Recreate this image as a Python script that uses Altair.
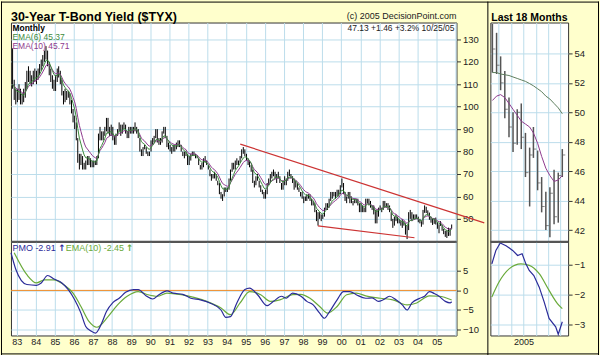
import altair as alt
import pandas as pd

FONT = "Liberation Sans"
BG = "#FFFFCC"
GRID = "#BCDDEB"
FRAME = "#333333"
TXT = "#222222"
GREEN = "#3C8A3C"
PURPLE = "#8E3A8E"
RED = "#CC3333"
BLUE = "#2B2B99"
SIGG = "#6AAA3A"
ORANGE = "#F08A24"

# ---- Monthly $TYX bars (yield x 10), Oct 1982 .. Oct 2005 ----
HI = [
    126, 112, 108,
    108, 110, 108, 106, 108, 111, 116, 118, 116, 114, 116, 117,
    116, 117, 119, 121, 123, 125, 127, 125, 120, 117, 114, 112,
    114, 117, 118, 116, 112, 107, 108, 107, 107, 106, 103, 99,
    96, 93, 86, 79, 79, 78, 75, 76, 78, 78, 77, 76,
    76, 76, 78, 88, 91, 89, 89, 91, 95, 95, 91, 92,
    91, 87, 88, 90, 93, 92, 92, 93, 92, 89, 91, 91,
    91, 91, 93, 91, 90, 86, 81, 82, 83, 82, 80, 80,
    85, 86, 87, 90, 90, 86, 86, 89, 91, 91, 87, 84,
    83, 82, 83, 83, 84, 85, 85, 83, 80, 80, 80, 79,
    78, 79, 80, 80, 79, 78, 77, 74, 75, 77, 78, 76,
    74, 72, 70, 70, 71, 70, 67, 66, 62, 61, 64, 64,
    64, 68, 72, 75, 75, 76, 77, 76, 78, 81, 82, 81,
    79, 77, 76, 74, 72, 67, 69, 70, 67, 65, 63, 62,
    63, 66, 68, 70, 71, 72, 71, 70, 71, 69, 66, 67,
    69, 68, 71, 72, 70, 69, 68, 67, 66, 64, 62, 62,
    60, 60, 61, 61, 61, 59, 58, 57, 54, 53, 53, 52,
    52, 55, 57, 57, 59, 62, 62, 62, 62, 63, 63, 65,
    68, 66, 62, 60, 62, 62, 60, 58, 59, 59, 59, 57,
    57, 56, 55, 59, 59, 59, 58, 56, 56, 54, 54, 55,
    56, 55, 58, 58, 57, 57, 56, 53, 50, 51, 52, 51,
    50, 49, 50, 49, 48, 47, 53, 54, 53, 52, 52, 52,
    51, 50, 49, 54, 56.0, 55.4, 53.8, 52.8, 51.0, 50.0, 50.2, 50.6,
    48.6, 47.6, 49.0, 47.4, 45.6, 44.6, 44.9, 46.1, 45.9, 47.5,
]
LO = [
    108, 103, 101,
    102, 103, 101, 101, 102, 104, 108, 111, 110, 109, 110, 111,
    110, 112, 114, 116, 118, 120, 121, 118, 114, 111, 108, 107,
    107, 111, 113, 110, 105, 101, 102, 103, 104, 101, 97, 93,
    90, 85, 75, 72, 74, 72, 72, 72, 74, 74, 73, 73,
    73, 74, 74, 77, 85, 85, 85, 87, 89, 88, 87, 87,
    85, 83, 83, 87, 89, 87, 88, 90, 88, 86, 86, 88,
    88, 88, 89, 88, 86, 80, 78, 78, 81, 79, 78, 78,
    80, 83, 84, 86, 84, 83, 83, 84, 88, 86, 82, 81,
    80, 79, 80, 80, 81, 82, 82, 80, 78, 77, 78, 74,
    74, 76, 78, 78, 77, 77, 74, 72, 72, 73, 75, 74,
    72, 69, 67, 68, 68, 67, 65, 61, 59, 58, 60, 62,
    62, 63, 67, 71, 72, 72, 74, 74, 75, 77, 79, 78,
    76, 74, 73, 71, 66, 64, 65, 67, 64, 62, 61, 59,
    59, 61, 65, 66, 68, 69, 68, 66, 68, 66, 63, 63,
    65, 65, 67, 69, 68, 66, 63, 64, 63, 62, 60, 59,
    57, 58, 58, 59, 58, 56, 56, 53, 49, 47, 50, 49,
    50, 51, 54, 54, 55, 58, 59, 60, 59, 60, 60, 61,
    64, 61, 58, 57, 59, 57, 57, 56, 57, 57, 56, 53,
    53, 53, 53, 53, 57, 56, 55, 54, 52, 48, 48, 51,
    54, 53, 54, 55, 55, 54, 53, 49, 46, 47, 49, 48,
    48, 47, 46, 47, 43, 41, 45, 50, 49, 50, 50, 50,
    48.5, 48, 46.5, 47.5, 52.7, 52.6, 51.5, 49.6, 48.3, 47.3, 47.8, 47.5,
    45.6, 43.6, 46.9, 44.7, 43.2, 42.0, 41.5, 42.4, 42.5, 45.6,
]
CL = [
    110, 106, 104,
    105, 107, 104, 103, 105, 109, 113, 115, 112, 112, 114, 115,
    113, 115, 117, 119, 121, 123, 125, 121, 117, 114, 111, 110,
    112, 115, 116, 112, 107, 104, 106, 105, 106, 103, 99, 95,
    93, 86, 78, 75, 77, 74, 73, 74, 77, 76, 75, 74,
    75, 75, 77, 86, 88, 86, 88, 90, 94, 89, 89, 90,
    86, 84, 88, 90, 92, 88, 91, 92, 89, 87, 90, 90,
    89, 91, 91, 89, 86, 81, 79, 82, 82, 80, 79, 80,
    84, 85, 86, 89, 86, 84, 84, 88, 90, 87, 83, 82,
    81, 81, 82, 82, 83, 84, 83, 80, 78, 79, 79, 74,
    77, 78, 79, 79, 78, 77, 74, 73, 74, 76, 76, 74,
    72, 69, 69, 69, 70, 67, 66, 62, 60, 60, 63, 63,
    63, 67, 71, 73, 74, 76, 75, 76, 78, 79, 80, 79,
    77, 75, 74, 72, 66, 66, 69, 67, 65, 63, 62, 60,
    62, 66, 67, 69, 70, 69, 70, 69, 69, 66, 64, 66,
    68, 68, 71, 69, 69, 68, 64, 66, 64, 62, 61, 59,
    59, 59, 60, 60, 58, 56, 57, 53, 50, 52, 51, 51,
    51, 55, 56, 57, 58, 60, 61, 60, 61, 61, 63, 65,
    65, 62, 58, 59, 60, 59, 57, 57, 59, 58, 56, 55,
    56, 53, 54, 58, 58, 57, 55, 54, 54, 49, 53, 55,
    55, 54, 58, 56, 56, 55, 54, 50, 47, 50, 51, 48,
    49, 47, 48, 48, 44, 46, 52, 52, 49, 51, 51, 51,
    49, 48, 48, 53, 54.3, 53.2, 52.0, 50.2, 49.0, 47.9, 50.0, 48.3,
    45.9, 47.1, 47.5, 45.2, 43.6, 42.3, 44.5, 42.9, 45.7, 47.1,
]

# ---- Price Momentum Oscillator (main panel) ----
PMO_DATES = ["1982-09", "1982-12", "1983-07", "1984-01", "1984-04", "1984-08", "1984-12",
             "1985-05", "1985-09", "1986-01", "1986-05", "1986-08", "1986-11", "1987-02",
             "1987-06", "1987-09", "1988-01", "1988-05", "1988-09", "1989-02", "1989-05",
             "1989-10", "1990-02", "1990-06", "1990-11", "1991-03", "1991-09", "1992-02",
             "1992-08", "1993-02", "1993-09", "1993-12", "1994-03", "1994-07", "1994-12",
             "1995-03", "1995-08", "1996-02", "1996-06", "1996-11", "1997-02", "1997-06",
             "1997-11", "1998-03", "1998-07", "1998-11", "1999-02", "1999-05", "1999-10",
             "2000-02", "2000-06", "2000-10", "2001-04", "2001-08", "2001-12", "2002-03",
             "2002-07", "2002-11", "2003-03", "2003-06", "2003-09", "2004-02", "2004-05",
             "2004-08", "2004-11", "2005-02", "2005-06", "2005-09", "2005-10"]
PMO_VALS = [9.6, 5.4, 1.5, 1.3, 1.9, 3.8, 2.9,
            1.9, 0.2, -2.4, -5.8, -9.2, -10.3, -10.9,
            -8.4, -5.4, -3.1, -2.0, -0.5, 0.2, 0.2,
            -1.4, -2.2, -1.1, -0.1, -0.7, -1.0, -2.0,
            -2.4, -3.2, -5.0, -6.9, -6.7, -3.2, 0.2,
            0.6, -1.1, -3.9, -2.8, -1.5, -2.0, -0.7,
            -1.4, -2.8, -3.7, -5.8, -7.1, -5.6, -2.4,
            -0.3, -0.3, -1.1, -2.0, -1.9, -2.8, -2.4,
            -1.5, -2.4, -3.7, -5.0, -3.2, -2.0, -1.5,
            -0.3, -0.8, -1.5, -2.8, -3.2, -2.9]
SIG_DATES = ["1982-11", "1983-07", "1984-01", "1984-06", "1984-12", "1985-06", "1985-12",
             "1986-05", "1986-10", "1987-03", "1987-10", "1988-04", "1988-10", "1989-05",
             "1989-11", "1990-05", "1990-11", "1991-08", "1992-04", "1992-12", "1993-09",
             "1994-03", "1994-09", "1995-03", "1995-10", "1996-04", "1996-10", "1997-06",
             "1997-11", "1998-05", "1998-11", "1999-04", "1999-10", "2000-04", "2000-10",
             "2001-04", "2002-01", "2002-09", "2003-06", "2003-12", "2004-08", "2005-02",
             "2005-10"]
SIG_VALS = [9.6, 4.0, 1.9, 2.7, 2.7, 1.5, -0.7,
            -4.1, -7.9, -9.4, -6.7, -3.7, -1.5, -0.3,
            -1.1, -1.5, -0.7, -1.1, -1.8, -2.8, -4.5,
            -6.2, -3.2, -0.3, -1.1, -2.8, -2.4, -1.1,
            -1.0, -2.0, -4.1, -5.8, -4.1, -1.1, -0.7,
            -1.4, -2.0, -2.4, -3.7, -3.2, -1.4, -1.5,
            -2.45]

# ---- Last 18 months panel ----
R_EMA_SLOW = [52.7, 52.7, 52.6, 52.55, 52.5, 52.4, 52.3, 52.2, 52.1,
              51.95, 51.8, 51.6, 51.4, 51.1, 50.9, 50.6, 50.3, 49.9]
R_EMA_FAST = [50.8, 51.1, 51.2, 51.0, 50.6, 50.2, 49.8, 49.4, 49.2,
              49.0, 48.6, 47.9, 47.0, 46.2, 45.7, 45.3, 45.4, 45.7]
R_PMO_DATES = ["2004-05-11", "2004-06-10", "2004-07-12", "2004-08-24", "2004-10-12",
               "2004-11-18", "2004-12-21", "2005-01-18", "2005-02-12", "2005-03-18",
               "2005-04-27", "2005-06-03", "2005-07-09", "2005-08-27", "2005-09-15",
               "2005-10-15"]
R_PMO_VALS = [-0.97, -0.52, -0.27, -0.36, -0.52, -0.69, -0.63, -0.97, -1.19, -1.36,
              -1.75, -2.25, -2.8, -3.08, -3.33, -2.91]
R_SIG_DATES = ["2004-05-11", "2004-07-03", "2004-09-18", "2004-12-12", "2005-02-12",
               "2005-04-27", "2005-07-09", "2005-09-09", "2005-10-15"]
R_SIG_VALS = [-2.08, -1.58, -1.13, -0.97, -1.02, -1.3, -1.86, -2.3, -2.47]

# trend lines (date, value endpoints)
TREND_SEG = ["up", "up", "lo", "lo"]
TREND_DATES = ["1994-09-18", "2007-07-01", "1998-10-13", "2003-11-04"]
TREND_VALS = [83.3, 48.2, 46.9, 41.6]

# ---------------------------------------------------------------
months = pd.date_range("1982-10-01", periods=len(CL), freq="MS") + pd.Timedelta(days=14)
main = pd.DataFrame({"date": months, "hi": HI, "lo": LO, "close": CL})
main["ema6"] = main["close"].ewm(span=6, adjust=False).mean()
main["ema10"] = main["close"].ewm(span=10, adjust=False).mean()

recent = main.tail(18).reset_index(drop=True).copy()
recent["slow"] = R_EMA_SLOW
recent["fast"] = R_EMA_FAST

pmo_df = pd.DataFrame({"date": pd.to_datetime(PMO_DATES) + pd.Timedelta(days=14), "v": PMO_VALS})
sig_df = pd.DataFrame({"date": pd.to_datetime(SIG_DATES) + pd.Timedelta(days=14), "v": SIG_VALS})
rpmo_df = pd.DataFrame({"date": pd.to_datetime(R_PMO_DATES), "v": R_PMO_VALS})
rsig_df = pd.DataFrame({"date": pd.to_datetime(R_SIG_DATES), "v": R_SIG_VALS})
trend_df = pd.DataFrame({"seg": TREND_SEG, "date": pd.to_datetime(TREND_DATES), "v": TREND_VALS})

W_MAIN, W_RIGHT = 447, 78
H_PRICE, H_PMO = 220, 94

main_dom = [alt.DateTime(year=1982, month=9, date=14), alt.DateTime(year=2006, month=1, date=15)]
right_dom = [alt.DateTime(year=2004, month=4, date=30), alt.DateTime(year=2005, month=11, date=27)]
yearly = {"interval": "year", "step": 1}
quarterly = {"interval": "month", "step": 3}


def yaxis(values):
    return alt.Axis(orient="right", values=values, title=None, grid=True, gridColor=GRID,
                    domain=False, tickSize=4, tickColor=FRAME, labelFontSize=9.5,
                    labelColor=TXT, labelPadding=2, labelFont=FONT, labelOverlap=False,
                    labelFlush=False)


def label(txt, x, y, color=TXT, size=10, weight="normal", align="left", font=FONT):
    return alt.Chart(pd.DataFrame({"t": [txt]})).mark_text(
        align=align, baseline="alphabetic", fontSize=size, fontWeight=weight,
        color=color, font=font).encode(x=alt.value(x), y=alt.value(y), text="t:N")


def hrule(x1, x2, y, color="black", w=1):
    return alt.Chart(pd.DataFrame({"a": [0]})).mark_rule(color=color, strokeWidth=w).encode(
        x=alt.value(x1), x2=alt.value(x2), y=alt.value(y))


def vrule(x, y1, y2, color="black", w=1):
    return alt.Chart(pd.DataFrame({"a": [0]})).mark_rule(color=color, strokeWidth=w).encode(
        x=alt.value(x), y=alt.value(y1), y2=alt.value(y2))


# ---------------- main price panel ----------------
xm_axis = alt.Axis(title=None, labels=False, ticks=False, domain=False, grid=True,
                   gridColor=GRID, tickCount=yearly)
xm_scale = alt.Scale(domain=main_dom, nice=False)
ym = alt.Scale(domain=[39.8, 137.5], nice=False, zero=False)
ym_axis = yaxis(list(range(50, 131, 10)))
base = alt.Chart(main)
bars = base.mark_rule(color="black", strokeWidth=1).encode(
    x=alt.X("date:T", scale=xm_scale, axis=xm_axis),
    y=alt.Y("lo:Q", scale=ym, axis=ym_axis), y2="hi:Q")
ema6 = base.mark_line(color=GREEN, strokeWidth=1).encode(
    x=alt.X("date:T", scale=xm_scale, axis=xm_axis), y=alt.Y("ema6:Q", scale=ym, axis=ym_axis))
ema10 = base.mark_line(color=PURPLE, strokeWidth=1).encode(
    x=alt.X("date:T", scale=xm_scale, axis=xm_axis), y=alt.Y("ema10:Q", scale=ym, axis=ym_axis))
trend = alt.Chart(trend_df).mark_line(color=RED, strokeWidth=1.2, clip=False).encode(
    x=alt.X("date:T", scale=xm_scale, axis=xm_axis), y=alt.Y("v:Q", scale=ym, axis=ym_axis),
    detail="seg:N")

main_price = alt.layer(
    bars, ema10, ema6, trend,
    label("30-Year T-Bond Yield ($TYX)", 0, -2, "black", 12.5, "bold"),
    label("(c) 2005 DecisionPoint.com", 447, -4, TXT, 9, align="right"),
    label("47.13  +1.46  +3.2%  10/25/05", 445, 9, TXT, 8.5, align="right"),
    label("Monthly", 1.5, 8.5, "black", 8.5, "bold"),
    label("EMA(6) 45.37", 1.5, 17.5, GREEN, 8.5),
    label("EMA(10) 45.71", 1.5, 26.5, PURPLE, 8.5),
    # outer frame and separator
    hrule(-10, 590, -20.5), vrule(-9.5, -21, 334), hrule(-10, 590, 332.5),
    vrule(478.5, -21, 334), vrule(589.5, -21, 334),
).properties(width=W_MAIN, height=H_PRICE)

# ---------------- main PMO panel ----------------
xp_axis = alt.Axis(title=None, format="%y", ticks=False, domain=False, grid=True,
                   gridColor=GRID, tickCount=yearly, labelFontSize=9,
                   labelColor=TXT, labelPadding=2, labelFont=FONT,
                   labelExpr="year(datum.value) <= 2005 ? datum.label : ''")
yp = alt.Scale(domain=[-11.5, 12.4], nice=False, zero=False)
yp_axis = yaxis([5, 0, -5, -10])
zero = alt.Chart(pd.DataFrame({"z": [0]})).mark_rule(color=ORANGE, strokeWidth=1).encode(
    y=alt.Y("z:Q", scale=yp, axis=yp_axis))
pmo_line = alt.Chart(pmo_df).mark_line(color=BLUE, strokeWidth=1.2, interpolate="monotone").encode(
    x=alt.X("date:T", scale=xm_scale, axis=xp_axis), y=alt.Y("v:Q", scale=yp, axis=yp_axis))
sig_line = alt.Chart(sig_df).mark_line(color=SIGG, strokeWidth=1.2, interpolate="monotone").encode(
    x=alt.X("date:T", scale=xm_scale, axis=xp_axis), y=alt.Y("v:Q", scale=yp, axis=yp_axis))
main_pmo = alt.layer(
    zero, sig_line, pmo_line,
    hrule(0, W_MAIN, 0, "#555555", 2),
    label("PMO -2.91", 1.5, 9, BLUE, 9),
    label("\u2191", 47.5, 9, BLUE, 9, "bold", font="DejaVu Sans"),
    label("EMA(10) -2.45", 55, 9, SIGG, 9),
    label("\u2191", 115.5, 9, SIGG, 9, "bold", font="DejaVu Sans"),
).properties(width=W_MAIN, height=H_PMO)

# ---------------- right price panel ----------------
xr_axis = alt.Axis(title=None, labels=False, ticks=False, domain=False, grid=True,
                   gridColor=GRID, tickCount=quarterly)
xr_scale = alt.Scale(domain=right_dom, nice=False)
yr = alt.Scale(domain=[41.2, 56.1], nice=False, zero=False)
yr_axis = yaxis([42, 44, 46, 48, 50, 52, 54])
rbase = alt.Chart(recent)
rx = alt.X("date:T", scale=xr_scale, axis=xr_axis)
rbars = rbase.mark_rule(color="#555555", strokeWidth=1.5).encode(
    x=rx, y=alt.Y("lo:Q", scale=yr, axis=yr_axis), y2="hi:Q")
rticks = rbase.mark_tick(color="#555555", orient="horizontal", size=3, thickness=1, xOffset=1.5).encode(
    x=rx, y=alt.Y("close:Q", scale=yr, axis=yr_axis))
rslow = rbase.mark_line(color="#5E7E5E", strokeWidth=1).encode(
    x=rx, y=alt.Y("slow:Q", scale=yr, axis=yr_axis))
rfast = rbase.mark_line(color=PURPLE, strokeWidth=1).encode(
    x=rx, y=alt.Y("fast:Q", scale=yr, axis=yr_axis))
right_price = alt.layer(
    rbars, rticks, rslow, rfast,
    label("Last 18 Months", 1, -2, "black", 10.5, "bold"),
).properties(width=W_RIGHT, height=H_PRICE)

# ---------------- right PMO panel ----------------
xrp_axis = alt.Axis(title=None, ticks=False, domain=False, grid=True, gridColor=GRID,
                    tickCount=quarterly, labelFontSize=9, labelColor=TXT,
                    labelPadding=2, labelFont=FONT,
                    labelExpr="month(datum.value) == 0 ? timeFormat(datum.value, '%Y') : ''")
yrp = alt.Scale(domain=[-3.37, -0.23], nice=False, zero=False)
yrp_axis = yaxis([-1, -2, -3])
rpmo = alt.Chart(rpmo_df).mark_line(color=BLUE, strokeWidth=1.2).encode(
    x=alt.X("date:T", scale=xr_scale, axis=xrp_axis), y=alt.Y("v:Q", scale=yrp, axis=yrp_axis))
rsig = alt.Chart(rsig_df).mark_line(color=SIGG, strokeWidth=1.2, interpolate="monotone").encode(
    x=alt.X("date:T", scale=xr_scale, axis=xrp_axis), y=alt.Y("v:Q", scale=yrp, axis=yrp_axis))
right_pmo = alt.layer(
    rsig, rpmo, hrule(0, W_RIGHT, 0, "#555555", 2),
).properties(width=W_RIGHT, height=H_PMO)

chart = alt.concat(
    main_price, right_price, main_pmo, right_pmo,
    columns=2, spacing={"row": 0, "column": 34}, bounds="flush",
).properties(
    background=BG, padding={"left": 0, "top": 0, "right": 0, "bottom": 0},
).configure_view(fill="white", stroke=FRAME, strokeWidth=1
).configure_axis(labelOverlap=False)

chart.save("out.html", embed_options={"renderer": "svg", "actions": False})
